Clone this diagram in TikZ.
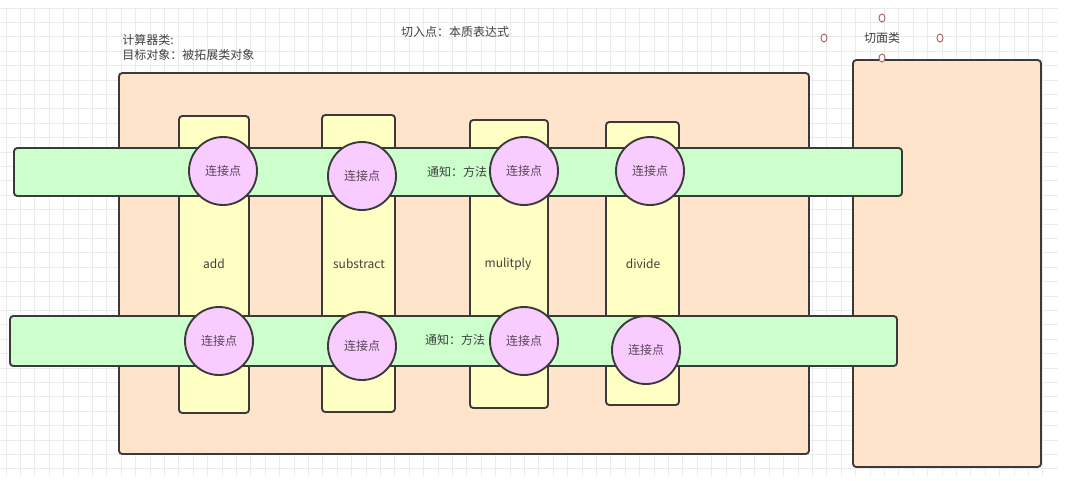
\documentclass[tikz,border=0pt]{standalone}
\usepackage{fontspec}
\setmainfont{Noto Sans CJK SC}
\usetikzlibrary{shapes.geometric}
\definecolor{gridc}{HTML}{EBEBEB}
\definecolor{linec}{HTML}{3A3A3A}
\definecolor{peach}{HTML}{FFE4CC}
\definecolor{greenc}{HTML}{CCFFCC}
\definecolor{yellowc}{HTML}{FFFFC4}
\definecolor{pinkc}{HTML}{F9CCFF}
\definecolor{txtc}{HTML}{404040}
\definecolor{conntxt}{HTML}{5A465A}
\definecolor{handlec}{HTML}{A86060}
\begin{document}
\begin{tikzpicture}[x=0.75pt,y=-0.75pt,
  sz/.style 2 args={minimum width={#1*0.75pt}, minimum height={#2*0.75pt}},
  box/.style={draw=linec, line width=1.4pt, rounded corners=2.5pt, inner sep=0pt, outer sep=0pt, anchor=north west},
  bigbox/.style={box, fill=peach},
  band/.style={box, fill=greenc},
  col/.style={box, fill=yellowc},
  conn/.style={circle, draw=linec, line width=1.4pt, fill=pinkc, minimum size={68*0.75pt}, inner sep=0pt, text=conntxt, font=\fontsize{9pt}{11pt}\selectfont},
  lbl/.style={text=txtc, font=\fontsize{9pt}{11pt}\selectfont, inner sep=0pt},
  handle/.style={ellipse, draw=handlec, line width=0.7pt, fill=white, minimum width={6*0.75pt}, minimum height={8*0.75pt}, inner sep=0pt}
]
\useasboundingbox (0,0) rectangle (1065,480);
\fill[white] (0,0) rectangle (1065,480);
% grid
\foreach \i in {0,...,72} \draw[gridc, line width=0.5pt] ({5.9+14.4*\i},8) -- ({5.9+14.4*\i},476);
\foreach \j in {0,...,32} \draw[gridc, line width=0.5pt] (0,{8+14.4*\j}) -- (1058,{8+14.4*\j});

% containers
\node[bigbox, sz={690}{381}] (calc) at (119,73) {};
\node[bigbox, sz={188}{407}] (aspect) at (853,60) {};

% method columns
\node[col, sz={70}{297}] (c1) at (179,116) {};
\node[col, sz={73}{297}] (c2) at (322,115) {};
\node[col, sz={78}{288}] (c3) at (470,120) {};
\node[col, sz={73}{283}] (c4) at (606,122) {};

% notification bands
\node[band, sz={888}{48}] (b1) at (14,148) {};
\node[band, sz={887}{50}] (b2) at (10,316) {};

% join points
\node[conn] (p1) at (223,171) {连接点};
\node[conn] (p2) at (362,176) {连接点};
\node[conn] (p3) at (524,171) {连接点};
\node[conn] (p4) at (650,171) {连接点};
\node[conn] (q1) at (219,341) {连接点};
\node[conn] (q2) at (362,346) {连接点};
\node[conn] (q3) at (524,341) {连接点};
\node[conn] (q4) at (646,350) {连接点};

% labels
\node[lbl] (t1) at (457,172) {通知：方法};
\node[lbl] (t2) at (455,340) {通知：方法};
\node[lbl] (m1) at (214,264) {add};
\node[lbl] (m2) at (359,264) {substract};
\node[lbl] (m3) at (508,264) {mulitply};
\node[lbl] (m4) at (643,264) {divide};
\node[lbl, anchor=west] (title1) at (122,40) {计算器类:};
\node[lbl, anchor=west] (title2) at (122,55) {目标对象：被拓展类对象};
\node[lbl] (cut) at (455,32) {切入点：本质表达式};
\node[lbl] (asp) at (882,38) {切面类};

% handles
\node[handle] (h1) at (882,18) {};
\node[handle] (h2) at (824,38) {};
\node[handle] (h3) at (940,38) {};
\node[handle] (h4) at (882,58) {};
\end{tikzpicture}
\end{document}
